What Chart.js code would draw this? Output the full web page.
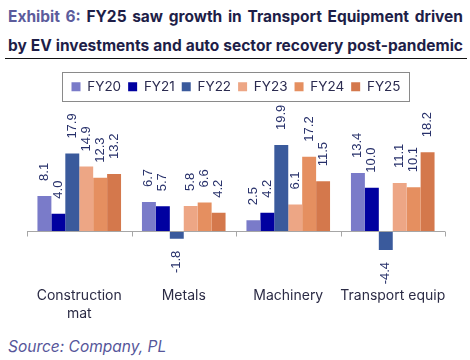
<!DOCTYPE html>
<html>
<head>
<meta charset="utf-8">
<script src="https://cdn.jsdelivr.net/npm/chart.js@4/dist/chart.umd.min.js"></script>
<style>
  html, body { margin: 0; padding: 0; background: #ffffff; }
  body { width: 470px; height: 360px; position: relative; overflow: hidden; font-family: Inter, "Noto Sans", sans-serif; }
  .title { position: absolute; left: 8px; width: 455px; font-weight: 700; font-size: 15.5px; color: #1e1e48;
           text-align: justify; text-align-last: justify; white-space: nowrap; line-height: 18px; }
  .t1 { top: 8px; }
  .t2 { top: 37px; }
  .ex { color: #5c5c9c; }
  .rule { position: absolute; left: 5px; width: 462px; top: 58px; height: 0; border-top: 1.5px solid #111; }
  .src { position: absolute; left: 8px; top: 337px; font-size: 15.5px; font-style: italic; color: #56569a; line-height: 20px; }
  #wrap { position: absolute; left: 0; top: 62px; width: 470px; height: 270px; }
</style>
</head>
<body>
<div class="title t1"><span class="ex">Exhibit 6:</span> FY25 saw growth in Transport Equipment driven</div>
<div class="title t2">by EV investments and auto sector recovery post-pandemic</div>
<div class="rule"></div>
<div id="wrap"><canvas id="c" width="470" height="270"></canvas></div>
<div class="src">Source: Company, PL</div>
<script>
const categories = [["Construction", "mat"], "Metals", "Machinery", "Transport equip"];
const seriesNames = ["FY20", "FY21", "FY22", "FY23", "FY24", "FY25"];
const FY20 = [8.1, 6.7, 2.5, 13.4];
const FY21 = [4.0, 5.7, 4.2, 10.0];
const FY22 = [17.9, -1.8, 19.9, -4.4];
const FY23 = [14.9, 5.8, 6.1, 11.1];
const FY24 = [12.3, 6.6, 17.2, 10.1];
const FY25 = [13.2, 4.2, 11.5, 18.2];
const seriesValues = [FY20, FY21, FY22, FY23, FY24, FY25];
const seriesColors = ["#7a7bc9", "#0000a0", "#3a5a9c", "#eda685", "#e58f60", "#d4784c"];

const zeroAxisPlugin = {
  id: "zeroAxis",
  afterDatasetsDraw(chart) {
    const { ctx, chartArea, scales } = chart;
    const y0 = scales.y.getPixelForValue(0);
    const xs = scales.x;
    const n = categories.length;
    ctx.save();
    ctx.strokeStyle = "#a6a6a6";
    ctx.lineWidth = 1;
    ctx.beginPath();
    ctx.moveTo(chartArea.left, Math.round(y0) + 0.5);
    ctx.lineTo(chartArea.right, Math.round(y0) + 0.5);
    for (let i = 0; i <= n; i++) {
      let bx;
      if (i === 0) bx = chartArea.left;
      else if (i === n) bx = chartArea.right;
      else bx = (xs.getPixelForValue(i - 1) + xs.getPixelForValue(i)) / 2;
      bx = Math.round(bx) + 0.5;
      ctx.moveTo(bx, Math.round(y0) + 0.5);
      ctx.lineTo(bx, Math.round(y0) + 5.5);
    }
    ctx.stroke();
    ctx.restore();
  }
};

const valueLabelPlugin = {
  id: "valueLabels",
  afterDatasetsDraw(chart) {
    const { ctx } = chart;
    ctx.save();
    ctx.font = "13px 'Liberation Sans', Arial, sans-serif";
    ctx.fillStyle = "#27306a";
    ctx.textBaseline = "middle";
    chart.data.datasets.forEach((ds, di) => {
      const meta = chart.getDatasetMeta(di);
      meta.data.forEach((el, i) => {
        const v = ds.data[i];
        const txt = v.toFixed(1);
        ctx.save();
        if (v >= 0) {
          ctx.translate(el.x, el.y - 15);
          ctx.rotate(-Math.PI / 2);
          ctx.textAlign = "left";
        } else {
          ctx.translate(el.x, el.y + 12);
          ctx.rotate(-Math.PI / 2);
          ctx.textAlign = "right";
        }
        ctx.fillText(txt, 0, 0);
        ctx.restore();
      });
    });
    ctx.restore();
  }
};

const legendBoxPlugin = {
  id: "legendBox",
  afterDraw(chart) {
    const lg = chart.legend;
    if (!lg || !lg.legendHitBoxes || !lg.legendHitBoxes.length) return;
    const hb = lg.legendHitBoxes;
    let minX = Infinity, maxX = -Infinity, cy = 0;
    hb.forEach(b => { minX = Math.min(minX, b.left); maxX = Math.max(maxX, b.left + b.width); cy += b.top + b.height / 2; });
    cy /= hb.length;
    const ctx = chart.ctx;
    ctx.save();
    ctx.strokeStyle = "#8a8a8a";
    ctx.lineWidth = 1;
    ctx.strokeRect(Math.round(minX - 10) + 0.5, Math.round(cy - 14.5) + 0.5, Math.round(maxX - minX + 18), 29);
    ctx.restore();
  }
};

new Chart(document.getElementById("c"), {
  type: "bar",
  data: {
    labels: categories,
    datasets: seriesNames.map((name, k) => ({
      label: name,
      data: seriesValues[k],
      backgroundColor: seriesColors[k],
      borderWidth: 0,
      categoryPercentage: 0.8,
      barPercentage: 1.0
    }))
  },
  options: {
    responsive: false,
    animation: false,
    devicePixelRatio: 1,
    layout: { padding: { top: 11, left: 27, right: 25, bottom: 0 } },
    plugins: {
      legend: {
        display: true,
        position: "top",
        labels: {
          boxWidth: 9,
          boxHeight: 9,
          padding: 7,
          color: "#2b2b50",
          font: { family: "Inter, 'Noto Sans', sans-serif", size: 13.5 }
        }
      },
      tooltip: { enabled: false },
      title: { display: false }
    },
    scales: {
      x: {
        grid: { display: false, drawTicks: false },
        border: { display: false },
        ticks: {
          color: "#2b2b45",
          padding: 9,
          maxRotation: 0,
          autoSkip: false,
          font: { family: "Inter, 'Noto Sans', sans-serif", size: 14, lineHeight: 1.3 }
        }
      },
      y: {
        display: false,
        min: -10.8,
        max: 29.5
      }
    }
  },
  plugins: [zeroAxisPlugin, valueLabelPlugin, legendBoxPlugin]
});
</script>
</body>
</html>
